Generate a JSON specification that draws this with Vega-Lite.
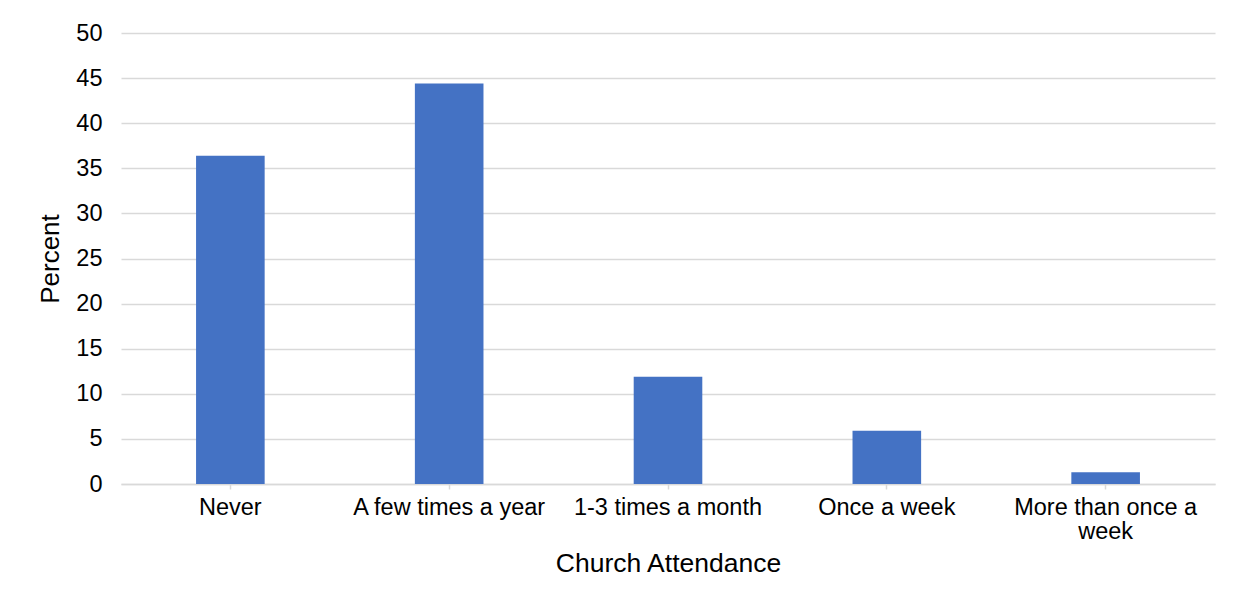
{
  "$schema": "https://vega.github.io/schema/vega-lite/v6.json",
  "width": 1094,
  "height": 451,
  "autosize": {"type": "none"},
  "padding": {"left": 121, "top": 33, "right": 26, "bottom": 127},
  "background": "white",
  "config": {
    "view": {"stroke": null},
    "font": "Liberation Sans"
  },
  "data": {
    "values": [
      {"attendance": "Never", "percent": 36.4},
      {"attendance": "A few times a year", "percent": 44.4},
      {"attendance": "1-3 times a month", "percent": 11.9},
      {"attendance": "Once a week", "percent": 5.9},
      {"attendance": "More than once a week", "percent": 1.3}
    ]
  },
  "mark": {"type": "bar", "color": "#4472C4"},
  "encoding": {
    "x": {
      "field": "attendance",
      "type": "nominal",
      "sort": null,
      "scale": {"paddingInner": 0.6865, "paddingOuter": 0.343},
      "axis": {
        "title": "Church Attendance",
        "titleFont": "Liberation Sans",
        "titleFontSize": 26.5,
        "titleFontWeight": "normal",
        "titleColor": "#000000",
        "titlePadding": 8,
        "labelAngle": 0,
        "labelFontSize": 23.5,
        "labelColor": "#000000",
        "labelPadding": 6,
        "labelLineHeight": 24,
        "labelExpr": "datum.label == 'More than once a week' ? ['More than once a', 'week'] : datum.label",
        "labelLimit": 300,
        "domainColor": "#d9d9d9",
        "domainWidth": 1.5,
        "tickColor": "#d9d9d9",
        "tickWidth": 1.5,
        "tickSize": 5,
        "grid": false
      }
    },
    "y": {
      "field": "percent",
      "type": "quantitative",
      "scale": {"domain": [0, 50], "nice": false},
      "axis": {
        "title": "Percent",
        "titleFont": "Liberation Sans",
        "titleFontSize": 26,
        "titleFontWeight": "normal",
        "titleColor": "#000000",
        "titlePadding": 12,
        "values": [0, 5, 10, 15, 20, 25, 30, 35, 40, 45, 50],
        "labelFontSize": 23.5,
        "labelColor": "#000000",
        "labelPadding": 19,
        "ticks": false,
        "domain": false,
        "grid": true,
        "gridColor": "#d9d9d9",
        "gridWidth": 1.5
      }
    }
  }
}
